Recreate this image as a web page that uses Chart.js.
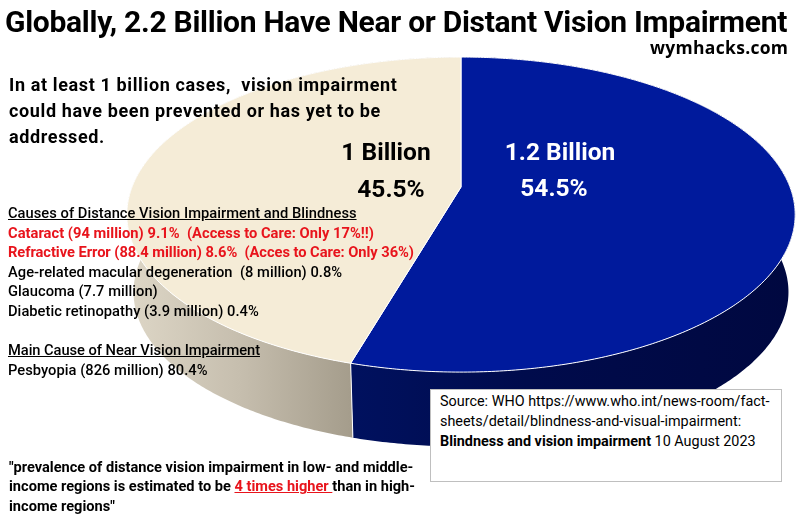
<!DOCTYPE html>
<html>
<head>
<meta charset="utf-8">
<script src="https://cdn.jsdelivr.net/npm/chart.js@4"></script>
<style>
  html, body { margin: 0; padding: 0; background: #fff; }
  #page { position: relative; width: 806px; height: 520px; overflow: hidden; font-family: Roboto, sans-serif; color: #000; }
  canvas { position: absolute; left: 0; top: 0; }
  .t { position: absolute; white-space: pre; }
  .titulo { left: 5px; top: 5px; font-size: 30px; line-height: 34px; font-weight: 700; letter-spacing: -0.28px; }
  .web { left: 650px; top: 36px; font-family: "Open Sans"; font-size: 17.5px; line-height: 22px; font-weight: 700; letter-spacing: .3px; }
  .intro { left: 9px; font-size: 18px; line-height: 26px; font-weight: 700; letter-spacing: .63px; }
  .lista { left: 8px; font-size: 14.7px; line-height: 19.6px; font-weight: 500; letter-spacing: .03px; }
  .rojo { color: #e8141c; font-weight: 700; }
  .sub { text-decoration: underline; }
  .fuente { left: 430px; top: 389px; width: 341px; height: 89px; background: #fff; border: 1px solid #bfbfbf; padding: 2px 0 0 9px; font-size: 14.4px; line-height: 20px; }
  .cita { left: 9px; font-size: 14.6px; line-height: 19.4px; font-weight: 700; }
</style>
</head>
<body>
<div id="page">
  <canvas id="grafica" width="806" height="520"></canvas>
  <div class="t titulo">Globally, 2.2 Billion Have Near or Distant Vision Impairment</div>
  <div class="t web">wymhacks.com</div>
  <div class="t intro" style="top:72px">In at least 1 billion cases,  vision impairment
could have been prevented or has yet to be
addressed.</div>
  <div class="t lista" style="top:204px"><span class="sub">Causes of Distance Vision Impairment and Blindness</span>
<span class="rojo">Cataract (94 million) 9.1%  (Access to Care: Only 17%!!)</span>
<span class="rojo" style="letter-spacing:-.05px">Refractive Error (88.4 million) 8.6%  (Acces to Care: Only 36%)</span>
Age-related macular degeneration  (8 million) 0.8%
Glaucoma (7.7 million)
Diabetic retinopathy (3.9 million) 0.4%

<span class="sub" style="letter-spacing:-.05px">Main Cause of Near Vision Impairment</span>
Pesbyopia (826 million) 80.4%</div>
  <div class="t fuente">Source: WHO https://www.who.int/news-room/fact-
sheets/detail/blindness-and-visual-impairment:
<b>Blindness and vision impairment</b> 10 August 2023</div>
  <div class="t cita" style="top:458px">"prevalence of distance vision impairment in low- and middle-
income regions is estimated to be <span class="rojo sub">4 times higher </span>than in high-
income regions"</div>
</div>
<script>
const categorias = ["1.2 Billion", "1 Billion"];
const valores = [54.5, 45.5];
const coloresCara = ["#001a9c", "#f5ecd7"];
const coloresTexto = ["#ffffff", "#000000"];

// perspectiva del pastel
const RX = 329, RY = 152.7, K = 0.175;
const ALTO = 78, ESCALA_BASE = 0.98;
// posicion de las etiquetas, relativa al centro del pastel
const etiquetas = [{ dx: 99, y1: 160, y2: 196 }, { dx: -75, y1: 160, y2: 197 }];

function proyectar(arc, ang, dy, esc) {
    const u = Math.cos(ang), v = Math.sin(ang), w = 1 - K * v;
    return [arc.x + esc * RX * u / w, arc.y + dy + esc * RY * v / w];
}

function puntosBorde(arc, dy, esc) {
    const pts = [];
    const n = Math.ceil((arc.endAngle - arc.startAngle) / 0.01);
    for (let i = 0; i <= n; i++) {
        pts.push(proyectar(arc, arc.startAngle + (arc.endAngle - arc.startAngle) * i / n, dy, esc));
    }
    return pts;
}

function trazar(ctx, pts) {
    ctx.beginPath();
    pts.forEach(([x, y], i) => i ? ctx.lineTo(x, y) : ctx.moveTo(x, y));
    ctx.closePath();
}

const pastel3d = {
    id: "pastel3d",
    beforeDatasetsDraw(chart) {
        const ctx = chart.ctx;
        const arcos = chart.getDatasetMeta(0).data;
        ctx.save();
        ctx.lineJoin = "round";

        // paredes
        const gradAzul = ctx.createLinearGradient(350, 0, 790, 0);
        gradAzul.addColorStop(0, "#00115f");
        gradAzul.addColorStop(0.4, "#000b4c");
        gradAzul.addColorStop(1, "#000840");
        const gradCrema = ctx.createLinearGradient(130, 0, 350, 0);
        gradCrema.addColorStop(0, "#ddd6c6");
        gradCrema.addColorStop(0.5, "#c6beae");
        gradCrema.addColorStop(1, "#a59d8c");
        const paredes = [gradAzul, gradCrema];

        arcos.forEach((arc, i) => {
            const arriba = puntosBorde(arc, 0, 1);
            const abajo = puntosBorde(arc, ALTO, ESCALA_BASE).reverse();
            trazar(ctx, arriba.concat(abajo));
            ctx.fillStyle = paredes[i];
            ctx.fill();
        });

        // cortes blancos entre paredes
        const corte = arcos[1];
        const a = proyectar(corte, corte.startAngle, 0, 1);
        const b = proyectar(corte, corte.startAngle, ALTO, ESCALA_BASE);
        ctx.strokeStyle = "#ffffff";
        ctx.lineWidth = 1;
        ctx.beginPath();
        ctx.moveTo(a[0], a[1]);
        ctx.lineTo(b[0], b[1]);
        ctx.stroke();

        // caras
        arcos.forEach((arc, i) => {
            trazar(ctx, [[arc.x, arc.y]].concat(puntosBorde(arc, 0, 1)));
            ctx.fillStyle = coloresCara[i];
            ctx.fill();
            ctx.strokeStyle = "#ffffff";
            ctx.lineWidth = 1;
            ctx.stroke();
        });

        // etiquetas
        ctx.textAlign = "center";
        ctx.textBaseline = "alphabetic";
        ctx.font = "700 24.5px Roboto";
        arcos.forEach((arc, i) => {
            ctx.fillStyle = coloresTexto[i];
            ctx.fillText(categorias[i], arc.x + etiquetas[i].dx, etiquetas[i].y1);
            ctx.fillText(valores[i].toFixed(1) + "%", arc.x + etiquetas[i].dx + (i ? 5 : -6), etiquetas[i].y2);
        });
        ctx.restore();
        return false;
    }
};

new Chart(document.getElementById("grafica"), {
    type: "pie",
    data: {
        labels: categorias,
        datasets: [{ data: valores, backgroundColor: coloresCara, borderColor: "#ffffff" }]
    },
    options: {
        responsive: false,
        animation: false,
        layout: { padding: { left: 116, right: 0, top: 0, bottom: 146 } },
        plugins: { legend: { display: false }, tooltip: { enabled: false } }
    },
    plugins: [pastel3d]
});
</script>
</body>
</html>
